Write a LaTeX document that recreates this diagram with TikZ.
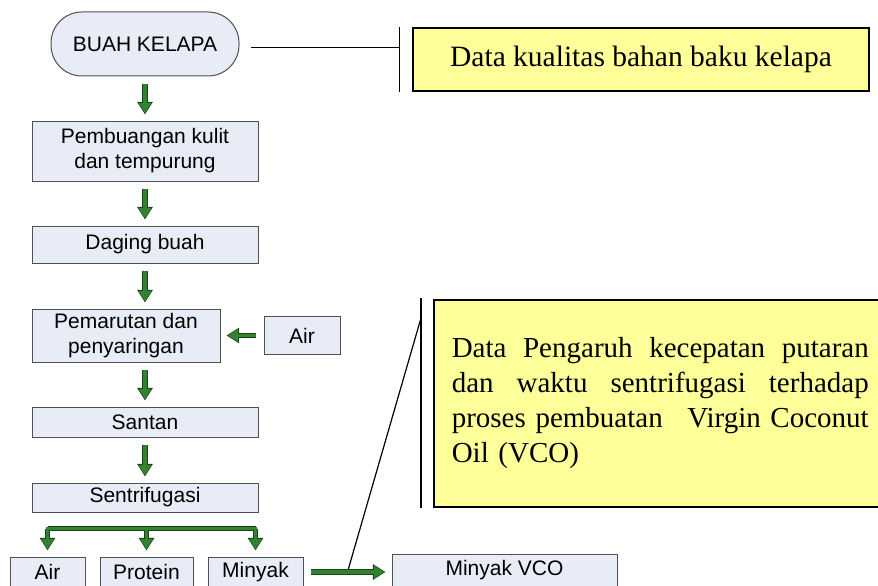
\documentclass[tikz,border=0pt]{standalone}
\usepackage{fontspec}
\setmainfont{Liberation Serif}
\newfontfamily\arialfont{Liberation Sans}
\usetikzlibrary{arrows.meta, positioning}

\definecolor{boxfill}{RGB}{231,236,247}
\definecolor{boxedge}{RGB}{80,80,80}
\definecolor{notefill}{RGB}{255,255,153}
\definecolor{arrowfill}{RGB}{50,130,50}
\definecolor{arrowedge}{RGB}{25,70,25}

\begin{document}
\begin{tikzpicture}[
    x=1pt, y=-1pt,
    box/.style={rectangle, draw=boxedge, line width=1pt, fill=boxfill, align=center, inner sep=1pt, minimum width=226pt, font=\arialfont\fontsize{21}{25}\selectfont},
    note/.style={rectangle, draw=black, line width=1.5pt, fill=notefill, font=\fontsize{29}{35}\selectfont},
    fat/.style={draw=arrowfill, line width=3.6pt},
    arrow/.style={fat, shorten <=7.5pt, shorten >=7.5pt, -{Triangle[length=10pt, width=13pt, line width=0pt]},
        preaction={draw=arrowedge, line width=5.2pt, shorten >=6.2pt, -{Triangle[length=12.5pt, width=16pt, line width=0pt]}}},
    callout/.style={draw=black, line width=1.2pt},
    node distance=44pt
]
\clip (0,0) rectangle (878,586);

% Nodes (flow)
\node[box, rounded corners=31pt, minimum width=188pt, minimum height=64pt] (buah) at (145,44) {BUAH KELAPA};
\node[box, minimum height=60pt, below=of buah] (buang) {Pembuangan kulit\\dan tempurung};
\node[box, minimum height=37pt, below=of buang] (daging) {Daging buah};
\node[box, minimum width=188pt, minimum height=53pt, below=45pt of daging.south west, anchor=north west] (marut) {Pemarutan dan\\penyaringan};
\node[box, minimum width=76pt, minimum height=38pt, right=43pt of marut] (airin) {Air};
\node[box, minimum height=30pt, below=of marut.south west, anchor=north west] (santan) {Santan};
\node[box, minimum height=29pt, below=45pt of santan] (sentri) {Sentrifugasi};

% Output nodes
\node[box, minimum width=75pt, minimum height=30pt, below=of sentri.south west, anchor=north west, xshift=-22pt] (airout) {Air};
\node[box, minimum width=93pt, minimum height=30pt, right=14pt of airout] (protein) {Protein};
\node[box, minimum width=95pt, minimum height=30pt, right=14pt of protein] (minyak) {Minyak};
\node[box, minimum width=225pt, minimum height=33pt, right=88pt of minyak.south east, anchor=south west] (vco) {Minyak VCO};

% Notes
\node[note, minimum width=456pt, minimum height=63pt, font=\fontsize{29.5}{35}\selectfont] (kualitas) at (641,59.5) {Data kualitas bahan baku kelapa};
\node[note, anchor=north west, text width=417pt, inner xsep=18pt, inner ysep=0pt, minimum height=207pt, align=left] (pengaruh) at (433,299) {%
  \makebox[417pt]{Data\hfill Pengaruh\hfill kecepatan\hfill putaran}\\
  \makebox[417pt]{dan\hfill waktu\hfill sentrifugasi\hfill terhadap}\\
  \makebox[417pt]{proses pembuatan\hfill Virgin Coconut}\\
  Oil (VCO)};

% Callout lines
\coordinate (bar1) at ([xshift=-13pt]kualitas.north west);
\coordinate (tail1) at ([xshift=11pt, yshift=-3.7pt]buah.east);
\draw[callout] (bar1) -- ([xshift=-13pt]kualitas.south west);
\draw[callout] (tail1) -- (tail1 -| bar1);
\path (minyak.east) -- (minyak.east -| vco.west) coordinate[pos=0.5] (tap);
\draw[callout] ([xshift=-12pt, yshift=1pt]pengaruh.north west) -- ([xshift=-12pt]pengaruh.south west);
\draw[callout] (tap) -- ([xshift=-12pt, yshift=-19pt]pengaruh.north west);

% Arrows
\draw[arrow] (buah) -- (buang);
\draw[arrow] (buang) -- (daging);
\draw[arrow] (daging.south) -- (daging.south |- marut.north);
\draw[arrow] (airin) -- (marut);
\draw[arrow] (marut.south -| santan.north) -- (santan.north);
\draw[arrow] (santan) -- (sentri);

% Split after centrifuge
\coordinate (split) at ([yshift=-16pt]sentri.south);
\draw[fat, line cap=rect, preaction={draw=arrowedge, line width=5.2pt}] (split -| airout) -- (split -| minyak);
\foreach \out in {airout,protein,minyak}
  \draw[arrow, shorten <=0pt] (split -| \out) -- (\out.north);
\draw[fat, line cap=rect] (split -| airout) -- (split -| minyak);

\draw[arrow] (minyak.east) -- (minyak.east -| vco.west);

\end{tikzpicture}
\end{document}
